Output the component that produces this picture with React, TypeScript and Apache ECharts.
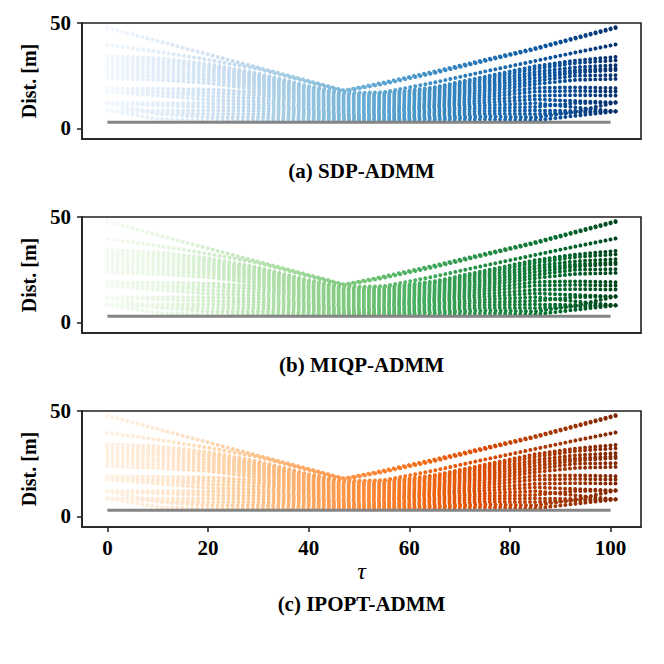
import React, { useEffect, useRef } from "react";
import * as echarts from "echarts";

// ---- data ----
// time steps (tau) at which each pair-distance trajectory was read
const TAU_KNOTS = [0, 10, 20, 30, 40, 47, 55, 65, 75, 85, 93, 101];

// pair-distance trajectories [m], one row per agent pair, values at TAU_KNOTS
const PAIR_DISTANCES: number[][] = [
  [47.7, 41.4, 35.1, 28.8, 22.5, 18.0, 21.8, 27.0, 32.5, 38.0, 43.0, 48.0],
  [39.7, 36.4, 32.6, 28.2, 22.0, 17.6, 21.2, 26.3, 32.0, 37.6, 42.6, 47.6],
  [34.3, 33.3, 30.5, 26.0, 20.0, 16.8, 17.2, 21.8, 27.0, 32.0, 36.0, 39.8],
  [32.7, 32.0, 29.5, 25.0, 19.5, 16.0, 16.5, 19.5, 24.5, 29.5, 32.2, 33.9],
  [31.3, 30.7, 28.3, 24.0, 18.5, 15.2, 15.7, 18.8, 23.5, 28.3, 31.0, 32.3],
  [29.9, 29.2, 27.0, 23.0, 17.5, 14.3, 14.8, 17.8, 22.3, 26.8, 29.0, 30.0],
  [28.3, 27.6, 25.5, 22.0, 16.5, 13.4, 13.8, 16.8, 21.0, 25.5, 27.5, 28.5],
  [26.9, 26.2, 24.3, 21.0, 15.5, 12.5, 12.9, 15.8, 19.8, 24.0, 26.5, 27.7],
  [25.3, 24.6, 23.0, 19.8, 14.5, 11.6, 12.0, 14.8, 18.5, 22.5, 25.0, 25.3],
  [23.8, 23.0, 21.5, 18.5, 13.5, 10.7, 11.0, 13.8, 17.3, 21.0, 23.0, 23.5],
  [19.1, 18.8, 18.5, 17.2, 12.5, 9.8, 10.0, 12.8, 16.0, 19.2, 19.5, 19.1],
  [17.5, 17.2, 17.0, 15.8, 11.5, 8.9, 9.1, 11.8, 14.8, 17.5, 17.8, 17.5],
  [19.1, 17.0, 15.3, 14.3, 10.5, 8.0, 8.2, 10.8, 13.5, 15.5, 15.8, 15.6],
  [17.5, 15.5, 13.6, 12.8, 9.5, 7.1, 7.3, 9.8, 12.2, 13.8, 13.0, 12.3],
  [12.0, 12.0, 11.9, 11.3, 8.5, 6.3, 6.4, 8.8, 10.9, 12.0, 10.0, 8.1],
  [12.0, 11.0, 10.2, 9.8, 7.5, 5.6, 5.6, 7.8, 9.6, 10.2, 12.0, 12.3],
  [8.5, 8.5, 8.5, 8.3, 6.6, 4.9, 4.9, 6.8, 8.3, 8.5, 8.3, 8.1],
  [8.5, 7.5, 6.8, 6.8, 5.7, 4.3, 4.3, 5.8, 7.0, 6.8, 7.5, 8.1],
  [12.0, 7.0, 5.2, 5.3, 4.8, 3.8, 3.8, 4.8, 5.7, 5.2, 8.0, 12.3],
  [8.5, 4.5, 3.5, 3.8, 3.9, 3.4, 3.4, 3.9, 4.4, 3.8, 6.0, 8.1],
];

// safety distance line
const SAFE_TAU = [0, 100];
const SAFE_DIST = 3;

const PANEL_TITLES = ["(a) SDP-ADMM", "(b) MIQP-ADMM", "(c) IPOPT-ADMM"];
const X_TICKS = [0, 20, 40, 60, 80, 100];
const Y_TICKS = [0, 50];

// colormaps (Blues, Greens, Oranges)
const BLUES = ["#f1f7fd", "#deebf7", "#c6dbef", "#9ecae1", "#6baed6", "#4292c6", "#2171b5", "#08519c", "#08306b"];
const GREENS = ["#f2faef", "#e5f5e0", "#c7e9c0", "#a1d99b", "#74c476", "#41ab5d", "#238b45", "#006d2c", "#00441b"];
const ORANGES = ["#fff0e1", "#fee6ce", "#fdd0a2", "#fdae6b", "#fd8d3c", "#f16913", "#d94801", "#a63603", "#7f2704"];
const PANEL_COLORMAPS = [BLUES, GREENS, ORANGES];

// ---- layout ----
const GRID_LEFT = 82;
const GRID_WIDTH = 559;
const GRID_HEIGHT = 116;
const GRID_TOPS = [23, 217, 411];
const TITLE_Y = [171, 365, 604];
const X_MIN = -5.05;
const X_MAX = 106.05;
const Y_MIN = -5;
const Y_MAX = 50;
const DOT = 3.9;
const FONT = "'Liberation Serif', 'Times New Roman', serif";
const FRAME_COLOR = "rgb(30,30,30)";

const SX = GRID_WIDTH / (X_MAX - X_MIN);
const SY = GRID_HEIGHT / (Y_MAX - Y_MIN);

// dash period so that one dot falls on each tau step along the track
function dotPeriod(vals: number[]) {
  let len = 0;
  for (let i = 1; i < TAU_KNOTS.length; i++) {
    const dx = (TAU_KNOTS[i] - TAU_KNOTS[i - 1]) * SX;
    const dy = (vals[i] - vals[i - 1]) * SY;
    len += Math.hypot(dx, dy);
  }
  const steps = TAU_KNOTS[TAU_KNOTS.length - 1] - TAU_KNOTS[0];
  return (len - 0.05) / steps;
}

function buildOption() {
  const grid: any[] = [];
  const xAxis: any[] = [];
  const yAxis: any[] = [];
  const series: any[] = [];
  const visualMap: any[] = [];
  const graphic: any[] = [];

  PANEL_TITLES.forEach((title, p) => {
    const last = p === PANEL_TITLES.length - 1;
    grid.push({
      left: GRID_LEFT,
      top: GRID_TOPS[p],
      width: GRID_WIDTH,
      height: GRID_HEIGHT,
    });
    xAxis.push({
      type: "value",
      gridIndex: p,
      min: X_MIN,
      max: X_MAX,
      axisLine: { show: true, onZero: false, lineStyle: { color: FRAME_COLOR, width: 1.6 } },
      splitLine: { show: false },
      axisTick: {
        show: last,
        length: 5,
        customValues: X_TICKS,
        lineStyle: { color: FRAME_COLOR, width: 1.5 },
      },
      axisLabel: {
        show: last,
        customValues: X_TICKS,
        margin: 10,
        fontFamily: FONT,
        fontWeight: "bold",
        fontSize: 21,
        color: "#000",
      },
      name: last ? "τ" : "",
      nameLocation: "middle",
      nameGap: 30,
      nameTextStyle: {
        fontFamily: FONT,
        fontStyle: "italic",
        fontSize: 24,
        color: "#000",
      },
    });
    yAxis.push({
      type: "value",
      gridIndex: p,
      min: Y_MIN,
      max: Y_MAX,
      axisLine: { show: true, onZero: false, lineStyle: { color: FRAME_COLOR, width: 1.6 } },
      splitLine: { show: false },
      axisTick: {
        show: true,
        length: 5,
        customValues: Y_TICKS,
        lineStyle: { color: FRAME_COLOR, width: 1.5 },
      },
      axisLabel: {
        customValues: Y_TICKS,
        margin: 11,
        fontFamily: FONT,
        fontWeight: "bold",
        fontSize: 21,
        color: "#000",
      },
      name: "Dist. [m]",
      nameLocation: "middle",
      nameRotate: 90,
      nameGap: 39,
      nameTextStyle: {
        fontFamily: FONT,
        fontWeight: "bold",
        fontSize: 20,
        color: "#000",
      },
    });

    const idx: number[] = [];
    PAIR_DISTANCES.forEach((vals) => {
      const per = dotPeriod(vals);
      idx.push(series.length);
      series.push({
        type: "line",
        xAxisIndex: p,
        yAxisIndex: p,
        data: TAU_KNOTS.map((t, i) => [t, vals[i]]),
        showSymbol: false,
        symbol: "none",
        silent: true,
        z: 2,
        lineStyle: {
          width: DOT,
          type: [0.01, per - 0.01],
          cap: "round",
        },
      });
    });
    series.push({
      type: "line",
      xAxisIndex: p,
      yAxisIndex: p,
      data: SAFE_TAU.map((t) => [t, SAFE_DIST]),
      showSymbol: false,
      symbol: "none",
      silent: true,
      z: 3,
      lineStyle: { color: "#858585", width: 3 },
    });
    visualMap.push({
      type: "continuous",
      show: false,
      dimension: 0,
      min: TAU_KNOTS[0],
      max: TAU_KNOTS[TAU_KNOTS.length - 1],
      seriesIndex: idx,
      inRange: { color: PANEL_COLORMAPS[p] },
    });
    // panel frame (axes box)
    graphic.push({
      type: "rect",
      silent: true,
      z: 100,
      shape: { x: GRID_LEFT, y: GRID_TOPS[p], width: GRID_WIDTH, height: GRID_HEIGHT },
      style: { fill: "none", stroke: FRAME_COLOR, lineWidth: 1.6 },
    });
    graphic.push({
      type: "text",
      x: GRID_LEFT + GRID_WIDTH / 2,
      y: TITLE_Y[p],
      style: {
        text: title,
        textAlign: "center",
        textVerticalAlign: "middle",
        fontFamily: FONT,
        fontWeight: "bold",
        fontSize: 21,
        fill: "#000",
      },
    });
  });

  return {
    animation: false,
    backgroundColor: "#fff",
    grid,
    xAxis,
    yAxis,
    visualMap,
    series,
    graphic,
  };
}

export default function App() {
  const ref = useRef<HTMLDivElement>(null);
  useEffect(() => {
    if (!ref.current) return;
    const chart = echarts.init(ref.current, undefined, { renderer: "svg" });
    chart.setOption(buildOption() as any);
    return () => chart.dispose();
  }, []);
  return (
    <div
      ref={ref}
      style={{ position: "fixed", left: 0, top: 0, width: 664, height: 664 }}
    />
  );
}
